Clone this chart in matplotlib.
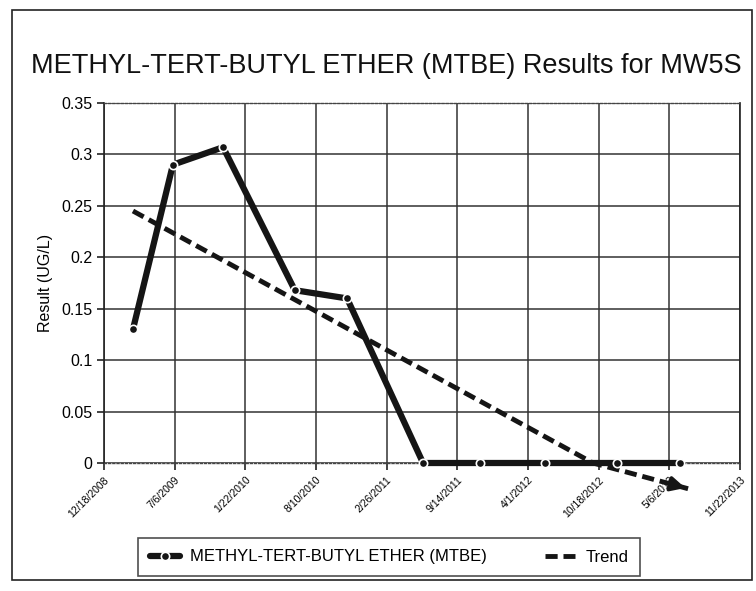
import matplotlib
matplotlib.use("Agg")
import matplotlib.pyplot as plt
import matplotlib.dates as mdates
from matplotlib.patches import Rectangle
from datetime import datetime

plt.rcParams['font.family'] = ['Liberation Sans', 'DejaVu Sans']

# Data
sample_dates = ["2009-03-10", "2009-07-01", "2009-11-20", "2010-06-11", "2010-11-06",
                "2011-06-09", "2011-11-16", "2012-05-18", "2012-12-08", "2013-06-04"]
mtbe_values = [0.13, 0.29, 0.307, 0.168, 0.16, 0.0, 0.0, 0.0, 0.0, 0.0]

trend_dates = ["2009-03-10", "2012-10-02", "2013-06-28"]
trend_values = [0.245, 0.0, -0.025]

tick_labels = ["12/18/2008", "7/6/2009", "1/22/2010", "8/10/2010", "2/26/2011",
               "9/14/2011", "4/1/2012", "10/18/2012", "5/6/2013", "11/22/2013"]
y_ticks = [0, 0.05, 0.1, 0.15, 0.2, 0.25, 0.3, 0.35]

W, H = 756, 591
fig = plt.figure(figsize=(W / 100, H / 100), dpi=100)
ax = fig.add_axes([104 / W, 1 - 463 / H, (740 - 104) / W, (463 - 103) / H])

to_dt = lambda s: datetime.strptime(s, "%m/%d/%Y") if "/" in s else datetime.strptime(s, "%Y-%m-%d")
xd = [to_dt(s) for s in sample_dates]
td = [to_dt(s) for s in trend_dates]
ticks = [to_dt(s) for s in tick_labels]

ax.plot(xd, mtbe_values, color='#151515', lw=4.5, marker='o', ms=6,
        mfc='#151515', mec='white', mew=1.2, solid_capstyle='round',
        label='METHYL-TERT-BUTYL ETHER (MTBE)', zorder=3, clip_on=False)
ax.plot(td, trend_values, color='#151515', lw=3.5, ls=(0, (2.5, 1.2)),
        label='Trend', zorder=2, clip_on=False)
# arrow head at trend end
x1, x2 = mdates.date2num(td[-2]), mdates.date2num(td[-1])
ax.annotate('', xy=(x2, trend_values[-1]),
            xytext=(x1 + 0.75 * (x2 - x1), trend_values[-2] + 0.75 * (trend_values[-1] - trend_values[-2])),
            arrowprops=dict(arrowstyle='-|>', color='#151515', lw=2.5, mutation_scale=22),
            annotation_clip=False)

ax.set_xlim(ticks[0], ticks[-1])
ax.set_ylim(0, 0.35)
ax.set_xticks(ticks)
ax.set_xticklabels(tick_labels, rotation=45, ha='right', rotation_mode='anchor', fontsize=7.5)
ax.set_yticks(y_ticks)
ax.set_yticklabels(['0'] + [f"{v:g}" for v in y_ticks[1:]], fontsize=11.5)
ax.tick_params(axis='x', length=5, width=1.2, color='#222222')
ax.tick_params(axis='y', length=5, width=1.2, color='#222222')

ax.grid(True, color='#333333', lw=1.1)
ax.set_axisbelow(True)
for s in ['left', 'right']:
    ax.spines[s].set_color('#222222')
    ax.spines[s].set_linewidth(1.2)
for s in ['top', 'bottom']:
    ax.spines[s].set_color('#444444')
    ax.spines[s].set_linestyle((0, (1.5, 1.5)))
    ax.spines[s].set_linewidth(1.0)

ax.set_ylabel('Result (UG/L)', fontsize=11.5, labelpad=6)

fig.text(386 / W, 1 - 66 / H, 'METHYL-TERT-BUTYL ETHER (MTBE) Results for MW5S',
         ha='center', va='center', fontsize=19.5, color='#111111')

leg = fig.legend(loc='center', bbox_to_anchor=(138 / W, 1 - 577 / H, 502 / W, 40 / H),
                 mode='expand', ncol=2,
                 frameon=True, fancybox=False, edgecolor='#222222', fontsize=12,
                 handlelength=1.8, handletextpad=0.6, borderpad=0.7, borderaxespad=0)
leg.get_frame().set_linewidth(1.2)

fig.patches.append(Rectangle((12 / W, 1 - 580 / H), (752 - 12) / W, (580 - 10) / H,
                             transform=fig.transFigure, fill=False, ec='#222222', lw=1.2))

fig.savefig('out.png', dpi=100)
